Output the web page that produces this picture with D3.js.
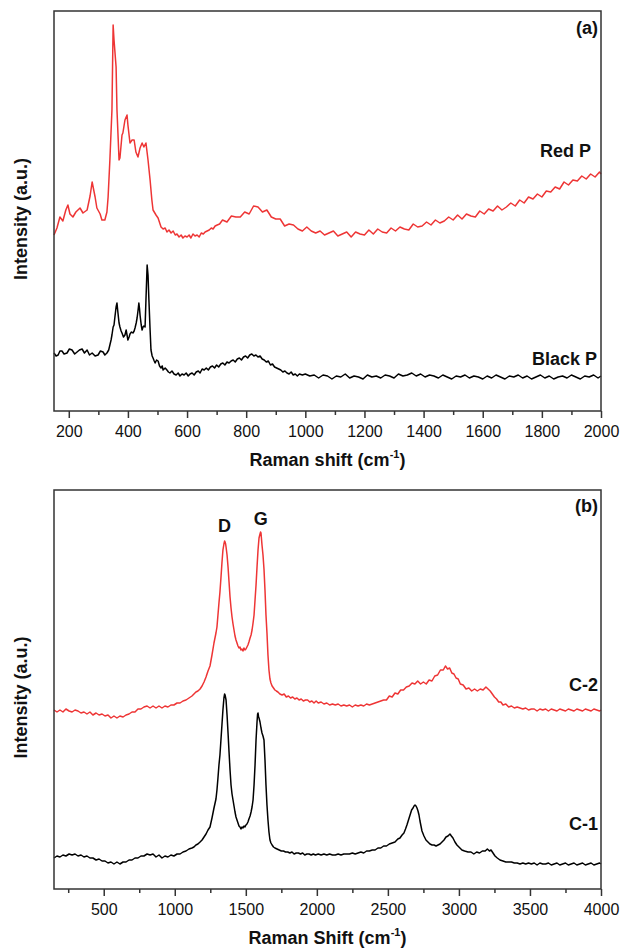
<!DOCTYPE html>
<html>
<head>
<meta charset="utf-8">
<script src="https://cdn.jsdelivr.net/npm/d3@7"></script>
<style>
  body { margin: 0; background: #fff; }
  text { font-family: "Liberation Sans", Arial, sans-serif; fill: #111; }
</style>
</head>
<body>
<script>
// ---- data (x = Raman shift in cm-1, y = intensity a.u.) ----
var redP = [[150,176],[160,183],[170,194],[180,190],[190,201],[197,206],[204,197],[214,194],[224,199],[238,203],[248,198],[262,201],[272,215],[279,229],[289,214],[295,203],[306,197],[312,191],[322,191],[329,199],[333,214],[339,251],[346,301],[350,386],[353,371],[360,344],[363,301],[370,251],[373,253],[380,276],[383,278],[390,291],[397,296],[400,286],[407,268],[414,271],[421,271],[427,259],[434,254],[441,263],[448,268],[454,264],[461,268],[468,251],[475,231],[481,211],[485,201],[495,196],[502,193],[512,184],[519,182],[526,183],[532,179],[539,181],[546,178],[553,180],[560,176],[566,177],[573,174],[580,176],[586,173],[593,175],[600,174],[607,176],[613,173],[620,177],[627,175],[634,176],[641,174],[648,178],[655,177],[661,179],[668,180],[675,181],[682,183],[688,182],[695,185],[702,186],[710,187],[720,191],[735,189],[750,195],[765,194],[780,194],[795,199],[810,197],[825,205],[840,204],[855,199],[870,201],[885,194],[900,192],[915,192],[930,185],[945,187],[960,186],[975,182],[990,180],[1005,184],[1020,180],[1035,178],[1050,180],[1065,176],[1080,178],[1095,180],[1110,175],[1125,177],[1140,179],[1155,174],[1170,179],[1185,177],[1200,176],[1215,181],[1230,177],[1245,182],[1260,179],[1275,178],[1290,183],[1305,180],[1320,184],[1335,182],[1350,181],[1365,187],[1380,184],[1395,185],[1410,189],[1425,186],[1440,191],[1455,188],[1470,190],[1485,194],[1500,191],[1515,196],[1530,192],[1545,197],[1560,195],[1575,194],[1590,200],[1605,197],[1620,202],[1635,200],[1650,205],[1665,201],[1680,204],[1695,208],[1710,205],[1725,211],[1740,208],[1755,214],[1770,212],[1785,217],[1800,214],[1815,220],[1830,219],[1845,224],[1860,222],[1875,229],[1890,226],[1905,231],[1920,230],[1935,235],[1950,232],[1965,237],[1980,234],[1995,239],[2000,237]];

var blackP = [[150,58],[157,55],[164,56],[170,60],[177,60],[184,57],[194,58],[202,62],[211,61],[220,57],[228,59],[236,61],[245,62],[253,58],[262,61],[270,56],[279,58],[289,55],[299,56],[307,60],[316,59],[322,56],[329,58],[335,61],[339,66],[343,71],[346,76],[350,84],[353,86],[356,94],[360,104],[363,108],[366,99],[370,88],[373,84],[377,80],[380,78],[385,74],[390,76],[394,81],[397,76],[400,71],[404,74],[407,77],[412,79],[417,78],[421,80],[424,83],[428,88],[431,93],[434,100],[437,108],[439,103],[441,96],[445,86],[448,81],[451,84],[454,85],[458,84],[461,111],[465,146],[468,136],[471,111],[475,81],[478,61],[482,55],[485,53],[489,50],[492,48],[497,51],[502,50],[507,45],[512,43],[516,45],[519,41],[526,43],[532,41],[537,39],[542,38],[549,40],[556,37],[563,36],[570,38],[576,35],[583,37],[590,36],[597,38],[604,35],[610,37],[617,38],[624,36],[631,39],[638,40],[644,38],[651,42],[658,41],[665,43],[672,41],[679,44],[686,45],[693,43],[700,46],[707,44],[714,47],[721,48],[728,46],[735,49],[742,48],[749,50],[756,51],[763,49],[770,52],[777,53],[784,51],[791,54],[798,55],[805,53],[812,56],[819,57],[826,55],[833,56],[840,54],[847,55],[854,52],[861,51],[868,49],[875,50],[882,46],[889,47],[896,44],[903,43],[910,42],[917,41],[924,39],[931,40],[938,38],[945,37],[952,39],[959,36],[966,37],[973,35],[980,37],[990,36],[1000,37],[1015,35],[1030,36],[1045,33],[1060,36],[1075,35],[1090,32],[1105,35],[1120,34],[1135,37],[1150,33],[1165,35],[1180,34],[1195,32],[1210,36],[1225,34],[1240,35],[1255,33],[1270,36],[1285,35],[1300,33],[1315,37],[1330,35],[1345,36],[1360,38],[1375,35],[1390,37],[1405,34],[1420,36],[1435,35],[1450,33],[1465,36],[1480,34],[1495,32],[1510,35],[1525,34],[1540,36],[1555,33],[1570,35],[1585,34],[1600,32],[1615,35],[1630,33],[1645,36],[1660,34],[1675,32],[1690,35],[1705,34],[1720,36],[1735,33],[1750,35],[1765,32],[1780,34],[1795,36],[1810,33],[1825,35],[1840,32],[1855,34],[1870,35],[1885,33],[1900,36],[1915,34],[1930,32],[1945,35],[1960,34],[1975,36],[1990,33],[2000,35]];

var c2 = [[150,179],[171,177],[192,179],[213,177],[234,180],[256,178],[277,177],[298,179],[319,178],[340,176],[361,177],[382,175],[403,177],[424,174],[446,176],[467,174],[488,175],[509,173],[530,174],[551,171],[572,173],[593,171],[614,173],[636,172],[657,174],[678,175],[699,177],[720,177],[741,180],[762,180],[783,182],[805,183],[826,181],[847,183],[868,181],[889,183],[910,181],[931,183],[952,182],[973,184],[994,184],[1016,186],[1037,186],[1058,188],[1079,189],[1100,191],[1121,193],[1135,195],[1149,197],[1163,198],[1178,200],[1192,203],[1206,207],[1220,212],[1234,218],[1248,223],[1262,234],[1276,246],[1290,256],[1297,262],[1304,274],[1311,286],[1318,297],[1325,311],[1332,326],[1339,339],[1346,345],[1351,348],[1354,347],[1358,345],[1361,342],[1368,334],[1375,322],[1382,307],[1389,292],[1396,281],[1403,272],[1410,265],[1417,259],[1424,253],[1431,249],[1438,246],[1445,243],[1452,241],[1459,242],[1466,239],[1473,240],[1480,238],[1487,241],[1494,239],[1501,240],[1508,242],[1515,244],[1522,247],[1530,251],[1537,254],[1544,259],[1551,266],[1558,274],[1565,289],[1572,304],[1579,322],[1586,339],[1593,351],[1600,355],[1604,357],[1607,356],[1614,344],[1621,334],[1628,320],[1635,299],[1642,274],[1649,256],[1656,234],[1663,219],[1670,210],[1677,206],[1685,203],[1695,201],[1705,199],[1715,198],[1726,197],[1740,195],[1755,194],[1770,195],[1785,192],[1800,193],[1815,191],[1830,192],[1845,190],[1860,191],[1875,189],[1890,190],[1905,188],[1920,189],[1935,189],[1950,187],[1965,188],[1980,186],[1995,188],[2010,186],[2030,187],[2050,185],[2070,186],[2090,184],[2110,185],[2130,184],[2150,185],[2170,183],[2190,184],[2210,183],[2230,184],[2250,182],[2270,184],[2290,183],[2310,184],[2330,183],[2350,185],[2370,184],[2390,185],[2410,186],[2430,187],[2450,188],[2470,189],[2490,189],[2510,193],[2530,192],[2550,196],[2570,195],[2590,199],[2610,199],[2630,202],[2650,203],[2670,206],[2690,205],[2710,208],[2730,205],[2750,207],[2770,205],[2790,209],[2810,208],[2830,213],[2850,214],[2870,219],[2890,219],[2905,223],[2920,220],[2935,221],[2950,216],[2965,215],[2980,211],[2995,210],[3010,205],[3030,204],[3050,200],[3070,201],[3090,198],[3110,200],[3130,198],[3150,200],[3170,199],[3190,202],[3205,200],[3220,198],[3235,195],[3250,192],[3265,190],[3280,187],[3295,187],[3310,184],[3330,185],[3350,182],[3370,183],[3390,181],[3410,182],[3430,181],[3450,180],[3470,181],[3490,179],[3510,180],[3530,180],[3550,178],[3570,180],[3590,179],[3610,180],[3630,178],[3650,180],[3670,179],[3690,178],[3710,180],[3730,179],[3750,178],[3770,180],[3790,179],[3810,178],[3830,180],[3850,179],[3870,178],[3890,180],[3910,179],[3930,178],[3950,180],[3970,179],[3990,178],[4000,179]];

var c1 = [[150,31],[171,33],[192,32],[213,34],[234,33],[256,35],[277,34],[298,35],[319,33],[340,34],[361,32],[382,33],[403,31],[424,31],[446,29],[467,30],[488,28],[509,28],[530,26],[551,27],[572,25],[593,27],[614,25],[636,27],[657,27],[678,29],[699,29],[720,31],[741,31],[762,33],[783,33],[805,35],[826,34],[847,35],[868,32],[889,34],[910,31],[931,33],[952,32],[973,34],[994,33],[1016,35],[1037,35],[1058,37],[1079,38],[1100,40],[1121,41],[1135,42],[1149,44],[1163,45],[1178,47],[1192,49],[1206,52],[1220,55],[1234,59],[1248,62],[1262,71],[1276,81],[1290,90],[1297,99],[1304,111],[1311,124],[1318,134],[1325,149],[1332,164],[1339,179],[1346,191],[1351,195],[1354,194],[1361,189],[1368,174],[1375,156],[1382,137],[1389,119],[1396,104],[1403,95],[1410,89],[1417,83],[1424,77],[1431,72],[1438,69],[1445,66],[1452,63],[1459,62],[1466,60],[1473,62],[1480,61],[1487,63],[1494,62],[1501,64],[1508,65],[1515,67],[1522,70],[1530,73],[1537,77],[1544,82],[1551,89],[1558,104],[1565,124],[1572,149],[1579,167],[1583,175],[1586,176],[1590,172],[1593,171],[1600,167],[1607,161],[1614,156],[1621,153],[1628,149],[1635,129],[1642,104],[1649,84],[1656,69],[1663,57],[1670,49],[1677,46],[1685,44],[1695,42],[1705,41],[1720,40],[1735,39],[1750,38],[1765,38],[1780,37],[1795,37],[1810,36],[1825,37],[1840,35],[1855,36],[1870,36],[1885,35],[1900,36],[1915,34],[1930,35],[1945,35],[1960,34],[1975,35],[1990,34],[2010,35],[2030,34],[2050,35],[2070,34],[2090,35],[2110,34],[2130,34],[2150,35],[2170,34],[2190,35],[2210,35],[2230,35],[2250,36],[2270,35],[2290,36],[2310,37],[2330,36],[2350,38],[2370,38],[2390,39],[2410,39],[2430,41],[2450,41],[2470,43],[2490,43],[2510,45],[2530,46],[2550,47],[2570,50],[2585,51],[2600,54],[2613,56],[2624,60],[2634,64],[2645,69],[2656,74],[2667,79],[2677,81],[2684,83],[2691,84],[2698,83],[2705,81],[2712,78],[2719,74],[2726,68],[2733,63],[2740,58],[2754,53],[2768,49],[2782,47],[2796,45],[2811,44],[2825,44],[2839,43],[2853,44],[2867,45],[2881,47],[2895,49],[2909,52],[2923,53],[2937,55],[2947,53],[2958,51],[2972,47],[2986,44],[3000,42],[3021,39],[3040,38],[3064,37],[3085,37],[3105,35],[3125,37],[3145,36],[3165,38],[3185,38],[3200,40],[3215,38],[3226,39],[3240,36],[3254,33],[3270,31],[3289,29],[3310,28],[3330,27],[3350,27],[3370,27],[3390,26],[3410,26],[3430,25],[3450,26],[3470,25],[3490,26],[3510,25],[3530,26],[3550,24],[3570,26],[3590,25],[3610,25],[3630,26],[3650,24],[3670,25],[3690,26],[3710,24],[3730,25],[3750,26],[3770,24],[3790,25],[3810,26],[3830,24],[3850,25],[3870,26],[3890,24],[3910,25],[3930,26],[3950,24],[3970,25],[3990,26],[4000,25]];

var ticksA = [200, 400, 600, 800, 1000, 1200, 1400, 1600, 1800, 2000];
var minorA = [300, 500, 700, 900, 1100, 1300, 1500, 1700, 1900];
var ticksB = [500, 1000, 1500, 2000, 2500, 3000, 3500, 4000];
var minorB = [250, 750, 1250, 1750, 2250, 2750, 3250, 3750];

var RED = "#ee3535", BLACK = "#000";

var svg = d3.select("body").append("svg")
    .attr("width", 620)
    .attr("height", 949);

//one framed panel with bottom axis
function drawPanel(p){
    var x = d3.scaleLinear().domain(p.xDomain).range([p.left, p.right]);
    var y = d3.scaleLinear().domain([0, p.bottom - p.top]).range([p.bottom, p.top]);
    var g = svg.append("g");

    var line = d3.line()
        .x(function(d){ return x(d[0]); })
        .y(function(d){ return y(d[1]); });

    p.series.forEach(function(s){
        g.append("path")
            .datum(s.data)
            .attr("fill", "none")
            .attr("stroke", s.color)
            .attr("stroke-width", 1.5)
            .attr("stroke-linejoin", "round")
            .attr("d", line);
    });

    //minor ticks
    var minorAxis = g.append("g")
        .attr("transform", "translate(0," + p.bottom + ")")
        .call(d3.axisBottom(x).tickValues(p.minor).tickSize(4).tickFormat(""));
    //major ticks
    var majorAxis = g.append("g")
        .attr("transform", "translate(0," + p.bottom + ")")
        .call(d3.axisBottom(x).tickValues(p.major).tickSize(7).tickPadding(8).tickFormat(d3.format("d")));
    [minorAxis, majorAxis].forEach(function(a){
        a.select(".domain").remove();
        a.selectAll("line").attr("stroke", "#333").attr("stroke-width", 1.5);
    });
    majorAxis.selectAll("text")
        .attr("font-size", 16)
        .attr("font-family", "Liberation Sans, Arial, sans-serif")
        .attr("fill", "#111");

    //frame
    g.append("rect")
        .attr("x", p.left).attr("y", p.top)
        .attr("width", p.right - p.left).attr("height", p.bottom - p.top)
        .attr("fill", "none")
        .attr("stroke", "#333")
        .attr("stroke-width", 1.5);

    //x title with superscript
    var xt = g.append("text")
        .attr("x", (p.left + p.right) / 2)
        .attr("y", p.bottom + 55)
        .attr("text-anchor", "middle")
        .attr("font-size", 18)
        .attr("font-weight", "bold");
    xt.append("tspan").text(p.xTitle + " (cm");
    xt.append("tspan").attr("font-size", 11).attr("dy", -8).text("-1");
    xt.append("tspan").attr("dy", 8).text(")");

    //y title
    g.append("text")
        .attr("transform", "translate(27," + ((p.top + p.bottom) / 2 + 8) + ") rotate(-90)")
        .attr("text-anchor", "middle")
        .attr("font-size", 18)
        .attr("font-weight", "bold")
        .text("Intensity (a.u.)");

    //labels
    p.labels.forEach(function(l){
        g.append("text")
            .attr("x", l.dx != null ? x(l.dx) : l.x)
            .attr("y", l.y)
            .attr("text-anchor", l.anchor || "end")
            .attr("font-size", 18)
            .attr("font-weight", "bold")
            .text(l.text);
    });
}

drawPanel({
    left: 54, right: 601, top: 11, bottom: 411,
    xDomain: [150, 2000],
    major: ticksA, minor: minorA,
    xTitle: "Raman shift",
    series: [{data: redP, color: RED}, {data: blackP, color: BLACK}],
    labels: [
        {text: "(a)", x: 598, y: 34},
        {text: "Red P", x: 591, y: 157},
        {text: "Black P", x: 597, y: 365}
    ]
});

drawPanel({
    left: 54, right: 601, top: 490, bottom: 889,
    xDomain: [150, 4000],
    major: ticksB, minor: minorB,
    xTitle: "Raman Shift",
    series: [{data: c2, color: RED}, {data: c1, color: BLACK}],
    labels: [
        {text: "(b)", x: 598, y: 512},
        {text: "D", dx: 1350, y: 532, anchor: "middle"},
        {text: "G", dx: 1605, y: 525, anchor: "middle"},
        {text: "C-2", x: 598, y: 691},
        {text: "C-1", x: 598, y: 830}
    ]
});
</script>
</body>
</html>
